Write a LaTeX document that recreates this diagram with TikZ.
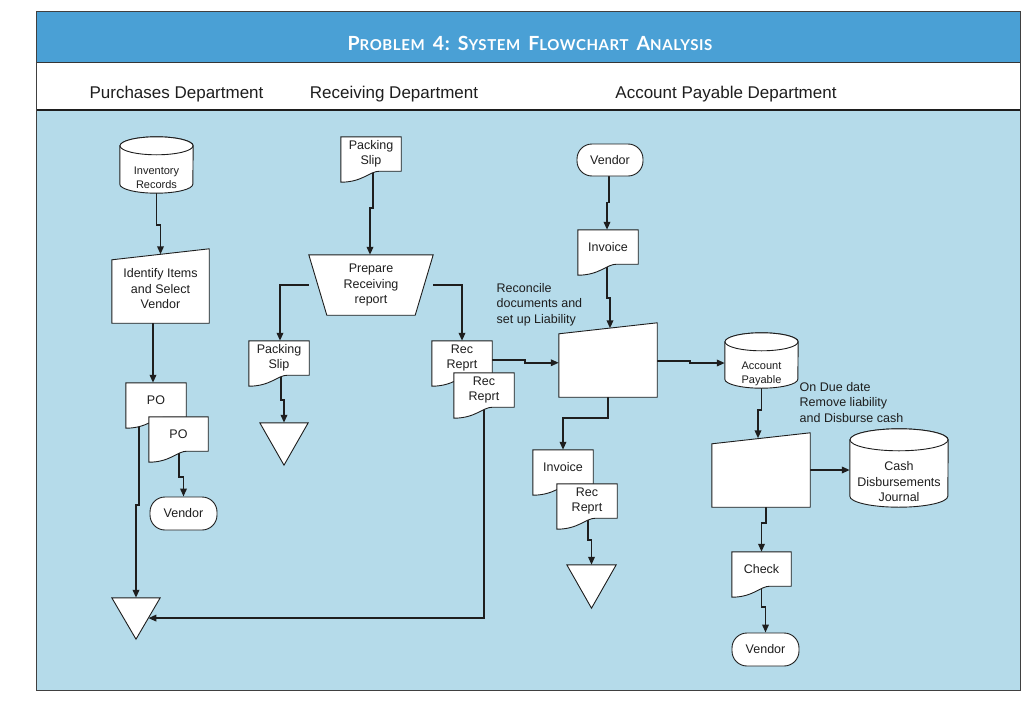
\documentclass[tikz,border=0pt]{standalone}
\usepackage{fontspec}
\setmainfont{Liberation Sans}
\newfontfamily\titlefont{Lato}[LetterSpace=4]
\usetikzlibrary{arrows.meta,calc}
\pgfdeclarelayer{back}\pgfdeclarelayer{conn}\pgfdeclarelayer{mid}
\pgfsetlayers{back,conn,mid,main}
\definecolor{titleblue}{RGB}{74,160,213}
\definecolor{bodyblue}{RGB}{181,219,234}
\definecolor{ink}{RGB}{30,30,30}
\tikzset{
  box/.style={inner sep=0pt, align=center, font=\fontsize{12.5}{15.5}\selectfont, text=ink},
  small/.style={inner sep=0pt, align=center, font=\fontsize{11}{14}\selectfont, text=ink},
  lbl/.style={inner sep=0pt, align=left, font=\fontsize{12.5}{15.5}\selectfont, text=ink},
  hdr/.style={inner sep=0pt, font=\fontsize{17}{20}\selectfont, text=ink},
  shp/.style={draw=ink, line width=0.9pt, fill=white},
  term/.style={box, draw=ink, line width=0.9pt, fill=white, rounded corners=15pt},
  arr/.style={draw=ink, line width=1.8pt, -{Triangle[length=8pt,width=6.5pt]}},
}
\newcommand\DocShape[1]{\begin{pgfonlayer}{mid}\draw[shp] (#1.north west) -- (#1.north east) -- (#1.south east) -- ($(#1.south west)!0.64!(#1.south east)$) .. controls ($(#1.south west)!0.48!(#1.south east)$) and ([yshift=-11pt]$(#1.south west)!0.36!(#1.south east)$) .. ([yshift=-11pt]#1.south west) -- cycle;\end{pgfonlayer}}
\newcommand\ManShape[1]{\begin{pgfonlayer}{mid}\draw[shp] (#1.south west) -- ([yshift=-5.5pt]#1.north west) -- ([yshift=5.5pt]#1.north east) -- (#1.south east) -- cycle;\end{pgfonlayer}}
\newcommand\TriShape[1]{\begin{pgfonlayer}{mid}\draw[shp] (#1.north west) -- (#1.north east) -- (#1.south) -- cycle;\end{pgfonlayer}}
\newcommand\TrapShape[1]{\begin{pgfonlayer}{mid}\draw[shp] (#1.north west) -- (#1.north east) -- ([xshift=-18pt]#1.south east) -- ([xshift=18pt]#1.south west) -- cycle;\end{pgfonlayer}}
\newcommand\CylShape[3]{\begin{pgfonlayer}{mid}\draw[shp] ([yshift=-#3]#1.north west) -- ([yshift=#3]#1.south west) arc[start angle=180,end angle=360,x radius=#2,y radius=#3] -- ([yshift=-#3]#1.north east) arc[start angle=0,end angle=180,x radius=#2,y radius=#3] -- cycle;
\draw[shp] ([yshift=-#3]#1.north) ellipse[x radius=#2,y radius=#3];\end{pgfonlayer}}
\newcommand\BigC[1]{{\fontsize{19.5}{20}\selectfont #1}}
\newcommand\SmC[1]{{\fontsize{15}{20}\selectfont #1}}
\newcommand\WGap{\hspace{8pt}}
\begin{document}
\begin{tikzpicture}[x=1pt,y=-1pt]
\useasboundingbox (0,0) rectangle (1027,717);
\begin{pgfonlayer}{back}
\fill[white] (0,0) rectangle (1027,717);
\fill[titleblue] (36,12) rectangle (1020,62);
\fill[bodyblue] (36,110) rectangle (1020,690);
\draw[ink!90, line width=0.9pt] (36,62) -- (1020,62);
\draw[ink, line width=1.8pt] (36,110) -- (1020,110);
\draw[ink!85, line width=1pt] (36,12) rectangle (1020,690);
\end{pgfonlayer}
% title and headers
\node[inner sep=0pt, text=white, font=\titlefont\bfseries] (title) at (530,43)
  {\BigC{P}\SmC{ROBLEM}\WGap\BigC{4:}\WGap\BigC{S}\SmC{YSTEM}\WGap\BigC{F}\SmC{LOWCHART}\WGap\BigC{A}\SmC{NALYSIS}};
\node[hdr] (hP) at (176.5,94.5) {Purchases Department};
\node[hdr] (hR) at (394,94.5) {Receiving Department};
\node[hdr] (hA) at (726,94.5) {Account Payable Department};
% Purchases department
\node[box, minimum width=73pt, minimum height=56pt] (inv) at (156.5,165) {};
\CylShape{inv}{36.5pt}{9pt}
\node[small] (invT) at (156.5,178) {Inventory\\Records};
\node[box, minimum width=97pt, minimum height=68.5pt] (idf) at (160.5,288.75) {Identify Items\\and Select\\Vendor};
\ManShape{idf}
\node[box, minimum width=60pt, minimum height=34pt] (po1) at (156,400) {PO};
\DocShape{po1}
\node[box, minimum width=59pt, minimum height=34pt] (po2) at (178.5,434) {PO};
\DocShape{po2}
\node[term, minimum width=67pt, minimum height=33pt] (ven1) at (183.5,513.5) {Vendor};
\node[box, minimum width=48pt, minimum height=41pt] (tri1) at (136,618.5) {};
\TriShape{tri1}
\coordinate (t1in) at ($(tri1.north east)!0.49!(tri1.south)$);
% Receiving department
\node[box, minimum width=60pt, minimum height=34pt] (ps1) at (371,154) {Packing\\Slip};
\DocShape{ps1}
\node[box, minimum width=124pt, minimum height=60pt] (prep) at (371,285) {Prepare\\Receiving\\report};
\TrapShape{prep}
\node[box, minimum width=60pt, minimum height=34pt] (ps2) at (279,358) {Packing\\Slip};
\DocShape{ps2}
\node[box, minimum width=48pt, minimum height=42pt] (tri2) at (284,444) {};
\TriShape{tri2}
\node[box, minimum width=60pt, minimum height=34pt] (rr1) at (462,358) {Rec\\Reprt};
\DocShape{rr1}
\node[box, minimum width=60pt, minimum height=34pt] (rr2) at (484,390) {Rec\\Reprt};
\DocShape{rr2}
% Account payable department
\node[term, minimum width=66pt, minimum height=32pt] (venA) at (610,160) {Vendor};
\node[box, minimum width=60pt, minimum height=34pt] (invc) at (608,247) {Invoice};
\DocShape{invc}
\node[box, minimum width=98pt, minimum height=68.5pt] (rec) at (608,362.75) {};
\ManShape{rec}
\node[lbl, anchor=north west] (recL) at (496.5,283) {Reconcile\\documents and\\set up Liability};
\node[box, minimum width=73pt, minimum height=55pt] (ap) at (761.5,360.5) {};
\CylShape{ap}{36.5pt}{9pt}
\node[small] (apT) at (761.5,374) {Account\\Payable};
\node[lbl, anchor=north west] (dueL) at (799.5,382) {On Due date\\Remove liability\\and Disburse cash};
\node[box, minimum width=60pt, minimum height=34pt] (inv2) at (563,467) {Invoice};
\DocShape{inv2}
\node[box, minimum width=60pt, minimum height=34pt] (rr3) at (587,501) {Rec\\Reprt};
\DocShape{rr3}
\node[box, minimum width=49pt, minimum height=43pt] (tri3) at (591.5,586.5) {};
\TriShape{tri3}
\node[box, minimum width=98pt, minimum height=68.5pt] (dis) at (761,472.75) {};
\ManShape{dis}
\node[box, minimum width=98pt, minimum height=78pt] (cash) at (899,468) {};
\CylShape{cash}{49pt}{11pt}
\node[box] (cashT) at (899,482) {Cash\\Disbursements\\Journal};
\node[box, minimum width=59pt, minimum height=34pt] (chk) at (761.5,569) {Check};
\DocShape{chk}
\node[term, minimum width=67pt, minimum height=33pt] (ven2) at (765.5,649.5) {Vendor};
% connectors
\begin{pgfonlayer}{conn}
\draw[arr] (inv.south) -- ++(0,32) -| (idf.north);
\draw[arr] ([xshift=-7.5pt]idf.south) -- ([xshift=-7.5pt]idf.south |- po1.north);
\draw[arr] ([xshift=-17pt]po1.south) -- ++(0,88) -| (tri1.north);
\draw[arr] ([xshift=0.5pt]po2.south) -- ++(0,26) -| (ven1.north);
\draw[arr] ([xshift=2pt]ps1.south) -- ++(0,37) -| ([xshift=-1pt]prep.north);
\draw[arr] (prep.west) -| ([xshift=1pt]ps2.north);
\draw[arr] (prep.east) -| (rr1.north);
\draw[arr] ([xshift=2pt]ps2.south) -- ++(0,25) -| (tri2.north);
\draw[arr] ([yshift=-2pt]rr1.east) -- ++(33,0) |- (rec.west);
\draw[arr] (rr2.south) |- (t1in);
\draw[arr] ([xshift=-1pt]venA.south) -- ++(0,26) -| ([xshift=-1pt]invc.north);
\draw[arr] ([xshift=-1pt]invc.south) -- ++(0,34) -| ([xshift=2pt]rec.north);
\draw[arr] ([yshift=1.75pt]rec.east) -- ++(33,0) |- ([yshift=-2.5pt]ap.west);
\draw[arr] (rec.south) -- ++(0,21) -| (inv2.north);
\draw[arr] ([xshift=1pt]rr3.south) -- ++(0,22) -| (tri3.north);
\draw[arr] (ap.south) -- ++(0,22) -| ([xshift=-3pt]dis.north);
\draw[arr] ([yshift=2.75pt]dis.east) -- ([yshift=2.75pt]dis.east -| cash.west);
\draw[arr] ([xshift=5pt]dis.south) -- ++(0,16) -| (chk.north);
\draw[arr] (chk.south) -- ++(0,21) -| (ven2.north);
\end{pgfonlayer}
\end{tikzpicture}
\end{document}
